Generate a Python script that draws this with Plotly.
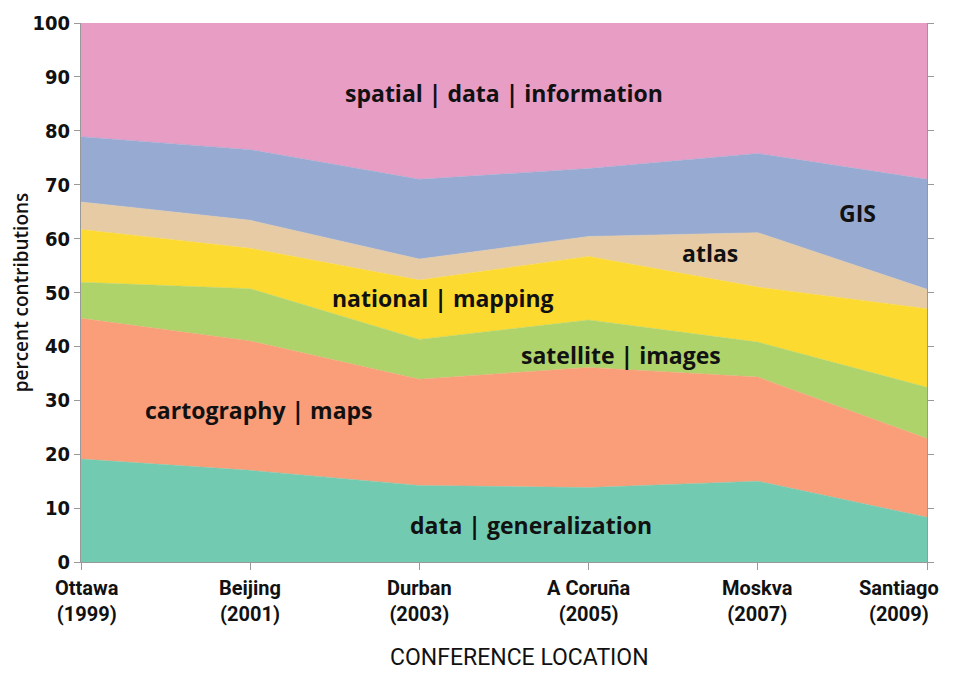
import plotly.graph_objects as go

locations = ["Ottawa<br>(1999)", "Beijing<br>(2001)", "Durban<br>(2003)",
             "A Coruña<br>(2005)", "Moskva<br>(2007)", "Santiago<br>(2009)"]
x_idx = [0, 1, 2, 3, 4, 5]

data_generalization = [19.1, 17.0, 14.2, 13.8, 15.0, 8.3]
cartography_maps = [26.1, 24.0, 19.7, 22.3, 19.3, 14.6]
satellite_images = [6.7, 9.7, 7.4, 8.8, 6.5, 9.5]
national_mapping = [9.8, 7.5, 11.0, 11.8, 10.2, 14.6]
atlas = [5.1, 5.2, 3.9, 3.7, 10.1, 3.6]
gis = [12.1, 13.1, 14.8, 12.6, 14.7, 20.4]
spatial_data_information = [21.1, 23.5, 29.0, 27.0, 24.2, 29.0]

series = [
    ("data | generalization", data_generalization, "#72cbb1"),
    ("cartography | maps", cartography_maps, "#f99e79"),
    ("satellite | images", satellite_images, "#aed36b"),
    ("national | mapping", national_mapping, "#fdda30"),
    ("atlas", atlas, "#e6cba5"),
    ("GIS", gis, "#97abd2"),
    ("spatial | data | information", spatial_data_information, "#e89dc5"),
]

fig = go.Figure()
for name, vals, col in series:
    fig.add_trace(go.Scatter(
        x=x_idx, y=vals, name=name, mode="lines", stackgroup="one",
        line=dict(width=0.5, color=col), fillcolor=col, showlegend=False,
        hoverinfo="skip",
    ))

labels = [
    ("spatial | data | information", 2.50, 87.0),
    ("GIS", 4.59, 64.7),
    ("atlas", 3.72, 57.3),
    ("national | mapping", 2.14, 48.9),
    ("satellite | images", 3.19, 38.4),
    ("cartography | maps", 1.05, 28.2),
    ("data | generalization", 2.66, 6.8),
]
for txt, lx, ly in labels:
    fig.add_annotation(x=lx, y=ly, text=txt, showarrow=False,
                       font=dict(family="Open Sans", size=23, color="#111111", weight="bold"))

# category labels under the axis (edge ones nudged inward as in the original)
shifts = [6, 0, 0, 0, 0, -28]
for xi, lab, sh in zip(x_idx, locations, shifts):
    fig.add_annotation(x=xi, y=0, yref="paper", yanchor="top", yshift=-12, xshift=sh,
                       text=lab, showarrow=False, align="center",
                       font=dict(family="Roboto", size=20, color="#111111", weight="bold"))

fig.add_annotation(x=0.5, xref="paper", y=0, yref="paper", yanchor="middle",
                   yshift=-95, xshift=15, borderpad=0,
                   text="CONFERENCE LOCATION", showarrow=False,
                   font=dict(family="Roboto", size=23, color="#111111"))

fig.update_layout(
    width=947, height=665,
    margin=dict(l=73, r=28, t=15, b=111),
    paper_bgcolor="white", plot_bgcolor="white",
    xaxis=dict(
        range=[0, 5], tickvals=x_idx, showticklabels=False, automargin=False,
        showgrid=False, zeroline=False,
        showline=True, linecolor="#999999", linewidth=1,
        ticks="outside", ticklen=7, tickcolor="#999999",
    ),
    yaxis=dict(
        range=[0, 100], tickvals=list(range(0, 101, 10)), automargin=False,
        showgrid=False, zeroline=False,
        showline=True, linecolor="#999999", linewidth=1, mirror="ticks",
        ticks="outside", ticklen=6, tickcolor="#999999",
        tickfont=dict(family="DejaVu Sans Condensed", size=20, color="#111111", weight="bold"),
        title=dict(text="percent contributions", standoff=8,
                   font=dict(family="Open Sans", size=19, color="#111111", weight=600)),
    ),
)

fig.write_html("out.html")
